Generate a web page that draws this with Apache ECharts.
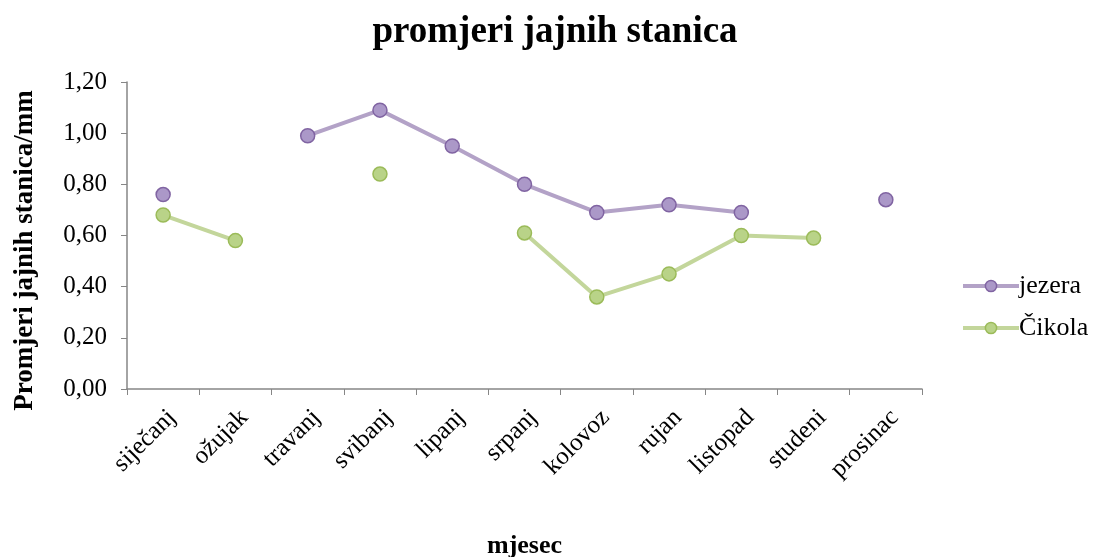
<!DOCTYPE html>
<html>
<head>
<meta charset="utf-8">
<script src="https://cdn.jsdelivr.net/npm/echarts@6/dist/echarts.min.js"></script>
<style>
html,body{margin:0;padding:0;background:#fff;}
#chart{width:1096px;height:557px;}
</style>
</head>
<body>
<div id="chart"></div>
<script>
var months = ['siječanj','ožujak','travanj','svibanj','lipanj','srpanj','kolovoz','rujan','listopad','studeni','prosinac'];
var jezera = [0.76, null, 0.99, 1.09, 0.95, 0.80, 0.69, 0.72, 0.69, null, 0.74];
var cikola = [0.68, 0.58, null, 0.84, null, 0.61, 0.36, 0.45, 0.60, 0.59, null];

var font = '"Liberation Serif", "Times New Roman", serif';
var axisGray = '#868686';

var option = {
    backgroundColor: '#fff',
    textStyle: { fontFamily: font },
    title: {
        text: 'promjeri jajnih stanica',
        left: 550,
        textAlign: 'center',
        top: 9,
        textStyle: { fontFamily: font, fontSize: 37, fontWeight: 'bold', color: '#000' }
    },
    legend: {
        orient: 'vertical',
        left: 956,
        top: 268,
        itemWidth: 56,
        itemHeight: 14,
        itemGap: 16,
        lineStyle: { width: 4 },
        itemStyle: { borderWidth: 1.5 },
        textStyle: { fontFamily: font, fontSize: 26, color: '#000', padding: [0, 0, 0, -5] },
        data: ['jezera', 'Čikola']
    },
    grid: { left: 127, right: 174, top: 82, bottom: 168, outerBoundsMode: 'none', containLabel: false },
    xAxis: {
        type: 'category',
        data: months,
        boundaryGap: true,
        name: 'mjesec',
        nameLocation: 'middle',
        nameGap: 144,
        nameTextStyle: { fontFamily: font, fontSize: 26, fontWeight: 'bold', color: '#000' },
        axisLine: { lineStyle: { color: axisGray, width: 1.5 } },
        axisTick: { show: true, alignWithLabel: false, length: 6, lineStyle: { color: axisGray } },
        axisLabel: { rotate: 45, fontFamily: font, fontSize: 25, color: '#000', margin: 16, verticalAlign: 'top', interval: 0 }
    },
    yAxis: {
        type: 'value',
        min: 0,
        max: 1.2,
        interval: 0.2,
        name: 'Promjeri jajnih stanica/mm',
        nameLocation: 'middle',
        nameGap: 88,
        nameTextStyle: { fontFamily: font, fontSize: 27, fontWeight: 'bold', color: '#000', padding: [0, 30, 0, 0] },
        splitLine: { show: false },
        axisLine: { show: true, lineStyle: { color: axisGray, width: 1.5 } },
        axisTick: { show: true, length: 6, lineStyle: { color: axisGray } },
        axisLabel: {
            fontFamily: font, fontSize: 25, color: '#000', margin: 20,
            formatter: function (v) { return v.toFixed(2).replace('.', ','); }
        }
    },
    series: [
        {
            name: 'jezera',
            type: 'line',
            data: jezera,
            connectNulls: false,
            symbol: 'circle',
            symbolSize: 14,
            lineStyle: { color: '#b3a2c7', width: 4 },
            itemStyle: { color: '#ab98c8', borderColor: '#8064a2', borderWidth: 1.5 }
        },
        {
            name: 'Čikola',
            type: 'line',
            data: cikola,
            connectNulls: false,
            symbol: 'circle',
            symbolSize: 14,
            lineStyle: { color: '#c3d69b', width: 4 },
            itemStyle: { color: '#b9d388', borderColor: '#9bbb59', borderWidth: 1.5 }
        }
    ]
};

var myChart = echarts.init(document.getElementById('chart'));
myChart.setOption(option);
</script>
</body>
</html>
